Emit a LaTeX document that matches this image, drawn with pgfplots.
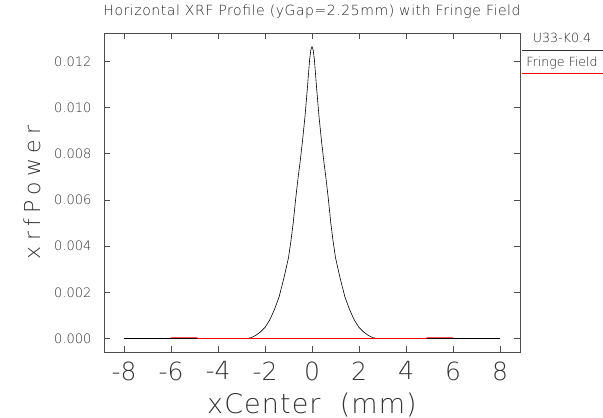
\documentclass[border=0pt]{standalone}
\usepackage{fontspec}
\setmainfont{DejaVu Sans ExtraLight}
\usepackage{pgfplots}
\pgfplotsset{compat=1.18}
\usepackage{pgfplotstable}

\pgfplotstableread{
x y
-8.0 0
-7.0 0
-6.0 0
-5.0 0
-4.0 0
-3.0 0
-2.8 0.00000
-2.6 0.00003
-2.4 0.00013
-2.2 0.00028
-2.0 0.00048
-1.8 0.00080
-1.6 0.00125
-1.4 0.00180
-1.2 0.00260
-1.0 0.00350
-0.9 0.00420
-0.8 0.00500
-0.7 0.00600
-0.6 0.00690
-0.5 0.00770
-0.4 0.00860
-0.3 0.00960
-0.2 0.01080
-0.1 0.01210
-0.05 0.01250
0.0 0.01265
0.05 0.01250
0.1 0.01210
0.2 0.01080
0.3 0.00960
0.4 0.00860
0.5 0.00770
0.6 0.00690
0.7 0.00600
0.8 0.00500
0.9 0.00420
1.0 0.00350
1.2 0.00260
1.4 0.00180
1.6 0.00125
1.8 0.00080
2.0 0.00048
2.2 0.00028
2.4 0.00013
2.6 0.00003
2.8 0.00000
3.0 0
4.0 0
5.0 0
6.0 0
7.0 0
8.0 0
}\undulator

\pgfplotstableread{
x y
-6.0 0.00003
-4.9 0.00003
-4.85 0
0 0
4.85 0
4.9 0.00003
6.0 0.00003
}\fringe

\newcommand{\titlefont}{\fontsize{14}{16}\selectfont\addfontfeatures{LetterSpace=4}}
\newcommand{\legfont}{\fontsize{12.6}{15}\selectfont}

\begin{document}
\begin{tikzpicture}
\useasboundingbox (-104pt,-66pt) rectangle (499pt,352pt);
\begin{axis}[
  at={(0pt,0pt)}, anchor=south west,
  scale only axis, width=416pt, height=319pt,
  xmin=-8.85, xmax=8.85,
  ymin=-0.000585, ymax=0.013235,
  xtick={-8,-6,-4,-2,0,2,4,6,8},
  ytick={0,0.002,0.004,0.006,0.008,0.010,0.012},
  tick align=inside,
  major tick length=6pt,
  axis line style={black!70, line width=0.7pt},
  every tick/.style={black!70, line width=0.7pt},
  /pgf/number format/assume math mode=true,
  yticklabel style={/pgf/number format/fixed, /pgf/number format/fixed zerofill, /pgf/number format/precision=3, font=\fontsize{13}{15}\selectfont, text=black!80, xshift=-9pt},
  scaled y ticks=false,
  xticklabel style={font=\fontsize{25}{28}\selectfont, text=black!80, yshift=-6pt},
  title={Horizontal XRF Profile (yGap=2.25mm) with Fringe Field},
  title style={at={(axis description cs:0.5,1)}, anchor=base, yshift=11pt, font=\titlefont, text=black!85},
  xlabel={xCenter\ \ (mm)},
  xlabel style={at={(axis description cs:0.5,0)}, anchor=base, yshift=-61pt, font=\fontsize{27}{30}\selectfont\addfontfeatures{LetterSpace=4}, text=black!80},
  ylabel={xrfPower},
  ylabel style={at={(axis description cs:-0.172,0.5)}, anchor=center, font=\fontsize{22}{26}\selectfont\addfontfeatures{LetterSpace=24}, text=black!80},
  clip=false,
]
\addplot[black, line width=0.6pt] table[x=x,y=y] {\undulator};
\addplot[red, line width=0.8pt] table[x=x,y=y] {\fringe};
\end{axis}
\node[anchor=base, font=\legfont, text=black!85, inner sep=0pt] at (458pt,309pt) {U33-K0.4};
\draw[black!80, line width=0.7pt] (418pt,301.3pt) -- (499pt,301.3pt);
\node[anchor=base, font=\legfont, text=black!85, inner sep=0pt] at (458pt,285pt) {Fringe Field};
\draw[red, line width=0.8pt] (418pt,278.7pt) -- (499pt,278.7pt);
\end{tikzpicture}
\end{document}
